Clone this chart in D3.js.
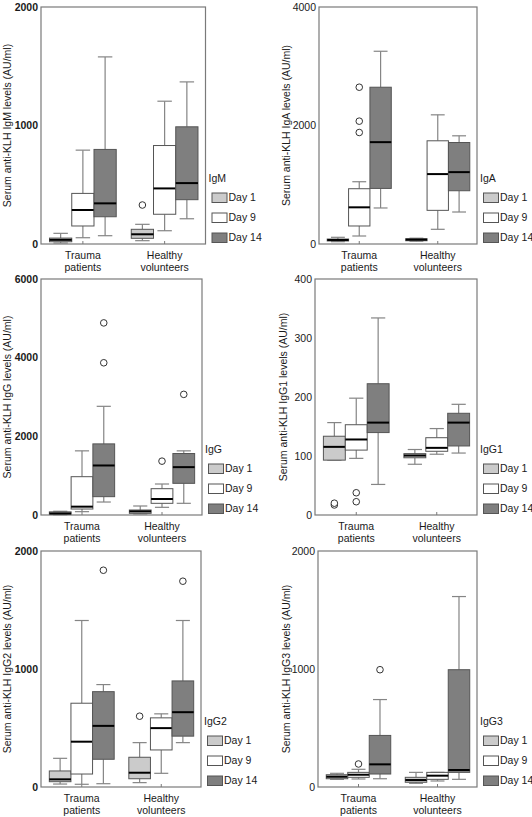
<!DOCTYPE html>
<html><head><meta charset="utf-8">
<script src="https://cdn.jsdelivr.net/npm/d3@7"></script>
<style>
body{margin:0;background:#fff}
svg{display:block}
text{font-family:"Liberation Sans",Arial,Helvetica,sans-serif;fill:#1a1a1a}
</style>
</head><body>
<svg id="chart" width="532" height="817"></svg>
<script>
// ---------- data ----------
const groups = [["Trauma","patients"],["Healthy","volunteers"]];
const days = ["Day 1","Day 9","Day 14"];
const isotypes = ["IgM","IgA","IgG","IgG1","IgG2","IgG3"];
const yMaxima = [2000,4000,6000,400,2000,2000];
const yTicks = [[0,1000,2000],[0,2000,4000],[0,2000,4000,6000],[0,100,200,300,400],[0,1000,2000],[0,1000,2000]];

// [low whisker, Q1, median, Q3, high whisker]; order: Trauma D1, D9, D14, Healthy D1, D9, D14
const igmStats = [[8,19,35,50,90],[53,152,287,427,792],[70,230,343,798,1579],[28,48,82,124,166],[112,251,469,831,1205],[213,374,514,989,1368]];
const igmOutliers = [[],[],[],[329],[],[]];

const igaStats = [[39,51,68,84,113],[135,304,619,933,1051],[608,938,1719,2646,3253],[48,55,73,90,98],[248,568,1180,1742,2180],[540,899,1213,1713,1826]];
const igaOutliers = [[],[1882,2073,2646],[],[],[],[]];

const iggStats = [[5,20,40,80,95],[85,152,212,974,1631],[330,466,1259,1808,2763],[25,42,93,127,229],[195,297,407,669,788],[297,805,1217,1563,1631]];
const iggOutliers = [[],[],[3870,4884],[],[1369],[3067]];

const igg1Stats = [[93,93,115.5,133.5,156.6],[96,110,128,153,198],[51.8,139.7,156.6,222.5,334],[86,97,100.8,104,111],[103,108,113.8,131,146.5],[105,117,156.6,172.4,187.6]];
const igg1Outliers = [[17,20],[22.5,37.7],[],[],[],[]];

const igg2Stats = [[25,45,65,136,243],[23,110,384,710,1411],[28,235,518,808,868],[37,70,121,252,376],[116,314,499,586,620],[376,431,634,899,1411]];
const igg2Outliers = [[],[],[1837],[600],[],[1744]];

const igg3Stats = [[65,70,87,104,116],[68,82,104,124,150],[70,110,192,437,741],[31,40,59,82,124],[51,65,96,124,124],[65,124,144,994,1614]];
const igg3Outliers = [[],[195],[994],[],[],[]];

const allStats = [igmStats, igaStats, iggStats, igg1Stats, igg2Stats, igg3Stats];
const allOutliers = [igmOutliers, igaOutliers, iggOutliers, igg1Outliers, igg2Outliers, igg3Outliers];

// ---------- layout / style ----------
const dayFills = ["#cbcbcb","#ffffff","#7f7f7f"];
const frames = [
  {x0:41, x1:205.5, y0:7,   y1:244, lab:10.5, bold:true},
  {x0:319,x1:477,   y0:7,   y1:244, lab:289.5, bold:false},
  {x0:41, x1:202,   y0:279, y1:515, lab:10.5, bold:true},
  {x0:315,x1:477,   y0:279, y1:515, lab:286.5, bold:false},
  {x0:41, x1:201,   y0:551, y1:787, lab:10.5, bold:true},
  {x0:318,x1:477,   y0:551, y1:787, lab:289.5, bold:false}
];
const FS = 10.5;
const svg = d3.select("#chart");

frames.forEach((f, pi) => {
  const g = svg.append("g");
  const y = d3.scaleLinear().domain([0, yMaxima[pi]]).range([f.y1, f.y0]);
  const x = d3.scaleBand().domain([0,1]).range([f.x0 + 1, f.x1]).paddingInner(0.184).paddingOuter(0.092);
  const xd = d3.scaleBand().domain([0,1,2]).range([0, x.bandwidth()]).padding(0);
  const bw = xd.bandwidth();
  const cap = bw * 0.65;

  // frame
  g.append("rect").attr("x", f.x0).attr("y", f.y0).attr("width", f.x1 - f.x0).attr("height", f.y1 - f.y0)
    .attr("fill", "none").attr("stroke", "#7a7a7a").attr("stroke-width", 1.2);

  // y tick labels
  g.selectAll(".yt").data(yTicks[pi]).enter().append("text")
    .attr("x", f.x0 - 3).attr("y", d => y(d)).attr("dy", "0.35em")
    .attr("text-anchor", "end").attr("font-size", FS)
    .attr("font-weight", f.bold ? "bold" : "normal")
    .text(d => d);

  // x ticks
  [0,1].forEach(gi => {
    const cx = x(gi) + x.bandwidth() / 2;
    g.append("line").attr("x1", cx).attr("x2", cx).attr("y1", f.y1).attr("y2", f.y1 - 3)
      .attr("stroke", "#7a7a7a").attr("stroke-width", 1);
    groups[gi].forEach((t, li) => {
      g.append("text").attr("x", cx).attr("y", f.y1 + 15 + li * 11.5)
        .attr("text-anchor", "middle").attr("font-size", FS).text(t);
    });
  });

  // y label
  const yc = (f.y0 + f.y1) / 2;
  g.append("text").attr("transform", `translate(${f.lab},${yc}) rotate(-90)`)
    .attr("text-anchor", "middle").attr("font-size", FS)
    .text(`Serum anti-KLH ${isotypes[pi]} levels (AU/ml)`);

  // boxes
  const stats = allStats[pi];
  const outs = allOutliers[pi];
  stats.forEach((s, i) => {
    const gi = Math.floor(i / 3), di = i % 3;
    const left = x(gi) + xd(di);
    const cx = left + bw / 2;
    const [lo, q1, med, q3, hi] = s;
    const wcol = "#858585";
    // whiskers
    g.append("line").attr("x1", cx).attr("x2", cx).attr("y1", y(q3)).attr("y2", y(hi)).attr("stroke", wcol).attr("stroke-width", 1.2);
    g.append("line").attr("x1", cx).attr("x2", cx).attr("y1", y(q1)).attr("y2", y(lo)).attr("stroke", wcol).attr("stroke-width", 1.2);
    g.append("line").attr("x1", cx - cap/2).attr("x2", cx + cap/2).attr("y1", y(hi)).attr("y2", y(hi)).attr("stroke", wcol).attr("stroke-width", 1.2);
    g.append("line").attr("x1", cx - cap/2).attr("x2", cx + cap/2).attr("y1", y(lo)).attr("y2", y(lo)).attr("stroke", wcol).attr("stroke-width", 1.2);
    // box
    g.append("rect").attr("x", left).attr("y", y(q3)).attr("width", bw).attr("height", Math.max(0.5, y(q1) - y(q3)))
      .attr("fill", dayFills[di]).attr("stroke", "#555").attr("stroke-width", 1);
    // median
    g.append("line").attr("x1", left).attr("x2", left + bw).attr("y1", y(med)).attr("y2", y(med))
      .attr("stroke", "#000").attr("stroke-width", 2);
    // outliers
    outs[i].forEach(v => {
      g.append("circle").attr("cx", cx).attr("cy", y(v)).attr("r", 3.3)
        .attr("fill", "#fff").attr("stroke", "#333").attr("stroke-width", 1);
    });
  });

  // legend
  g.append("text").attr("x", f.x1 + 3).attr("y", f.y1 - 66).attr("dy", "0.35em").attr("font-size", FS).text(isotypes[pi]);
  days.forEach((d, di) => {
    const top = f.y1 - 51 + di * 20;
    g.append("rect").attr("x", f.x1 + 6.5).attr("y", top).attr("width", 15).attr("height", 9.5)
      .attr("fill", dayFills[di]).attr("stroke", "#555").attr("stroke-width", 1);
    g.append("text").attr("x", f.x1 + 23).attr("y", top + 4.75).attr("dy", "0.35em").attr("font-size", FS).text(d);
  });
});
</script>
</body></html>
